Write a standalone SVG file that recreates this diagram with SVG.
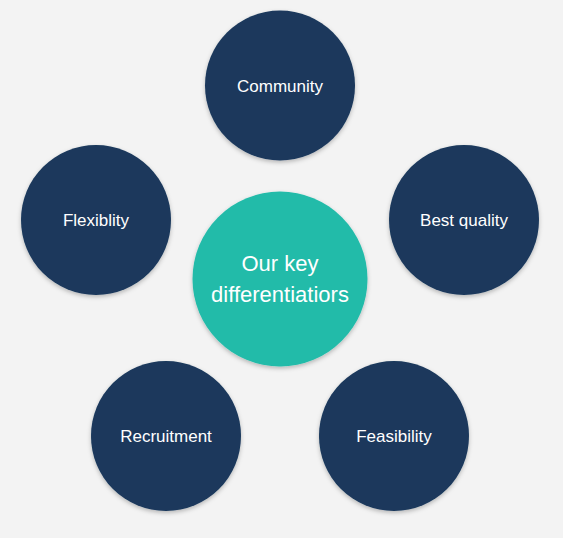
<svg xmlns="http://www.w3.org/2000/svg" width="563" height="538" viewBox="0 0 563 538">
<defs>
<filter id="sh" x="-20%" y="-20%" width="140%" height="150%">
<feDropShadow dx="0" dy="2" stdDeviation="2" flood-color="#000" flood-opacity="0.25"/>
</filter>
</defs>
<style>
.o{fill:#1a385b;filter:url(#sh)}
.c{fill:#21bba9;filter:url(#sh)}
.t{font-family:"Liberation Sans",Arial,sans-serif;font-size:17px;fill:#fff;text-anchor:middle}
.tc{font-family:"Liberation Sans",Arial,sans-serif;font-size:22px;fill:#fff;text-anchor:middle}
</style>
<rect width="563" height="538" fill="#f3f3f3"/>
<g id="connectors"></g>
<g id="center"><circle class="c" cx="280" cy="279" r="87.5"/><text class="tc" x="280" y="271">Our key</text><text class="tc" x="280" y="302">differentiatiors</text></g>
<g id="community"><circle class="o" cx="280" cy="85.5" r="75"/><text class="t" x="280" y="92">Community</text></g>
<g id="flexiblity"><circle class="o" cx="96" cy="220" r="75"/><text class="t" x="96" y="226">Flexiblity</text></g>
<g id="best-quality"><circle class="o" cx="464" cy="220" r="75"/><text class="t" x="464" y="226">Best quality</text></g>
<g id="recruitment"><circle class="o" cx="166" cy="436" r="75"/><text class="t" x="166" y="442">Recruitment</text></g>
<g id="feasibility"><circle class="o" cx="394" cy="436" r="75"/><text class="t" x="394" y="442">Feasibility</text></g>
</svg>
